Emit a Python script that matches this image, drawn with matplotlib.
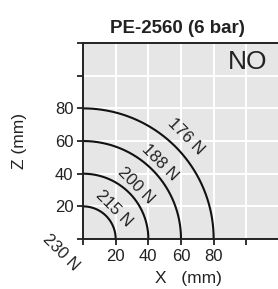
import numpy as np
import matplotlib.pyplot as plt

plt.rcParams['font.family'] = ['Liberation Sans', 'DejaVu Sans']

radii = [20, 40, 60, 80]
forces = ["215 N", "200 N", "188 N", "176 N"]
label_r = [26.5, 46, 66.5, 89]
origin_label = "230 N"
tick_labels = ["", "20", "40", "60", "80", "", ""]
ticks = [0, 20, 40, 60, 80, 100, 120]

fig = plt.figure(figsize=(2.78, 2.89), dpi=100)
ax = fig.add_axes([0.2986, 0.173, 0.705, 0.678])
ax.set_facecolor('#e6e6e6')

t = np.linspace(0, np.pi / 2, 200)
for r in radii:
    ax.plot(r * np.cos(t), r * np.sin(t), color='#111111', lw=1.5, clip_on=False)

# force labels sit on the 45 deg diagonal, just outside each arc
for lbl, lr in zip(forces, label_r):
    a = np.pi / 4
    ax.text(lr * np.cos(a), lr * np.sin(a), lbl, rotation=-45, ha='center', va='center',
            fontsize=12, color='#222222', rotation_mode='anchor')
ax.text(-13.5, -8.6, origin_label, rotation=-45, ha='center', va='center',
        fontsize=12, color='#222222', rotation_mode='anchor', clip_on=False)

ax.set_xlim(0, 120)
ax.set_ylim(0, 120)
ax.set_xticks(ticks)
ax.set_yticks(ticks)
ax.set_xticklabels(tick_labels)
ax.set_yticklabels(tick_labels)
ax.grid(True, color='white', lw=1.4)
ax.set_axisbelow(True)
ax.tick_params(direction='out', length=4, width=1.3, labelsize=12, colors='#222222', pad=3)
ax.spines['right'].set_visible(False)
for s in ['left', 'bottom', 'top']:
    ax.spines[s].set_linewidth(1.4)
    ax.spines[s].set_color('#222222')

ax.text(113, 116, "NO", ha='right', va='top', fontsize=19, color='#222222',
        family=['Liberation Sans Narrow', 'Liberation Sans'])
ax.set_title("PE-2560 (6 bar)", fontsize=13.5, fontweight='bold', pad=7, x=0.48, color='#222222')
ax.set_xlabel("X   (mm)", fontsize=12.5, labelpad=5, x=0.54, color='#222222')
ax.set_ylabel("Z (mm)", fontsize=12.5, labelpad=20, color='#222222')

fig.savefig("out.png", dpi=100)
